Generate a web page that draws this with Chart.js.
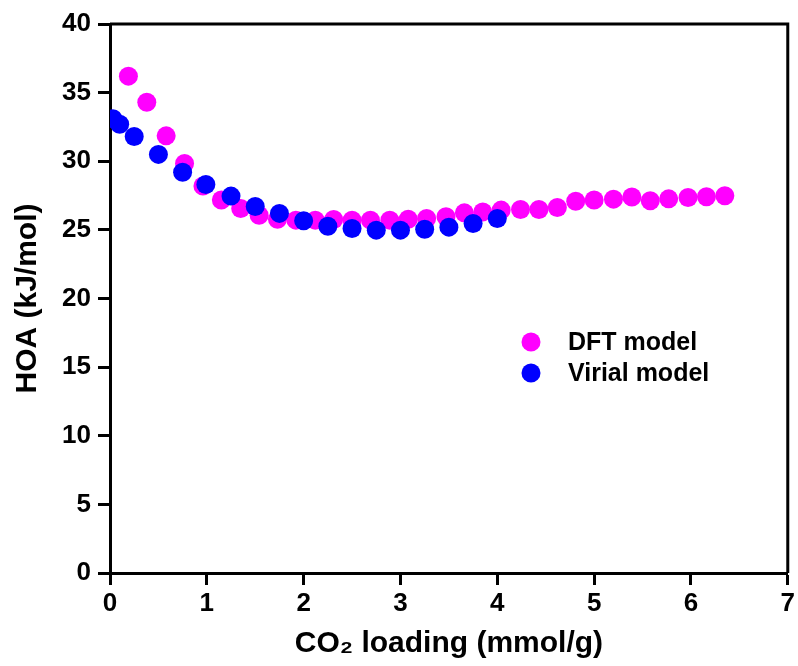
<!DOCTYPE html>
<html>
<head>
<meta charset="utf-8">
<title>HOA vs CO2 loading</title>
<script src="https://cdn.jsdelivr.net/npm/chart.js@4/dist/chart.umd.min.js"></script>
<style>
  html, body { margin: 0; padding: 0; background: #fff; }
  #wrap { width: 798px; height: 666px; }
</style>
</head>
<body>
<div id="wrap"><canvas id="graficoHOA" width="798" height="666"></canvas></div>
<script>
// valores
const dftX = [0.19, 0.38, 0.58, 0.77, 0.96, 1.15, 1.35, 1.54, 1.73, 1.92, 2.12, 2.31, 2.50, 2.69, 2.89, 3.08, 3.27,
  3.47, 3.66, 3.85, 4.04, 4.24, 4.43, 4.62, 4.81, 5.00, 5.20, 5.39, 5.58, 5.77, 5.97, 6.16, 6.35];
const dftY = [36.2, 34.3, 31.85, 29.84, 28.19, 27.17, 26.56, 26.07, 25.78, 25.71, 25.71, 25.76, 25.71, 25.71, 25.71, 25.78, 25.83,
  25.95, 26.24, 26.31, 26.44, 26.49, 26.49, 26.63, 27.09, 27.17, 27.24, 27.39, 27.12, 27.26, 27.36, 27.41, 27.48];
const virialX = [0.03, 0.10, 0.25, 0.50, 0.75, 0.99, 1.25, 1.50, 1.75, 2.00, 2.25, 2.50, 2.75, 3.00, 3.25, 3.50, 3.75, 4.00];
const virialY = [33.1, 32.7, 31.8, 30.5, 29.2, 28.3, 27.46, 26.7, 26.2, 25.66, 25.27, 25.1, 24.98, 24.98, 25.05, 25.2, 25.47, 25.83];
const xTicks = [0, 1, 2, 3, 4, 5, 6, 7];
const yTicks = [0, 5, 10, 15, 20, 25, 30, 35, 40];
const seriesLabels = ['DFT model', 'Virial model'];
const seriesColors = ['#ff00ff', '#0000ff'];

const toPoints = (xs, ys) => xs.map((x, i) => ({ x, y: ys[i] }));

// marco superior y derecho + leyenda dentro del area
const boxAndLegend = {
  id: 'boxAndLegend',
  afterDatasetsDraw(chart) {
    const { ctx, chartArea: a } = chart;
    ctx.save();
    ctx.strokeStyle = '#000';
    ctx.lineWidth = 3;
    ctx.beginPath();
    ctx.moveTo(a.left, a.top);
    ctx.lineTo(a.right, a.top);
    ctx.lineTo(a.right, a.bottom);
    ctx.stroke();

    ctx.font = 'bold 25px "Liberation Sans", Arial, sans-serif';
    ctx.textBaseline = 'middle';
    const rows = [342, 373];
    chart.data.datasets.forEach((ds, i) => {
      ctx.fillStyle = ds.backgroundColor;
      ctx.beginPath();
      ctx.arc(531, rows[i], 9.5, 0, Math.PI * 2);
      ctx.fill();
      ctx.fillStyle = '#000';
      ctx.fillText(ds.label, 568, rows[i] + 1);
    });
    ctx.restore();
  }
};

document.addEventListener('DOMContentLoaded', () => {
  Chart.defaults.font.family = '"Liberation Sans", Arial, sans-serif';
  Chart.defaults.font.weight = 'bold';
  Chart.defaults.color = '#000';

  const ctx = document.getElementById('graficoHOA').getContext('2d');
  new Chart(ctx, {
    type: 'scatter',
    data: {
      datasets: [
        {
          label: seriesLabels[0],
          data: toPoints(dftX, dftY),
          backgroundColor: seriesColors[0],
          borderWidth: 0,
          pointRadius: 9.5,
          order: 2,
          clip: 0
        },
        {
          label: seriesLabels[1],
          data: toPoints(virialX, virialY),
          backgroundColor: seriesColors[1],
          borderWidth: 0,
          pointRadius: 9.5,
          order: 1,
          clip: 0
        }
      ]
    },
    options: {
      responsive: false,
      animation: false,
      events: [],
      layout: { padding: { top: 24, right: 7, left: 0, bottom: 0 } },
      plugins: {
        legend: { display: false },
        tooltip: { enabled: false }
      },
      scales: {
        x: {
          type: 'linear',
          min: 0,
          max: 7,
          afterFit: s => { s.height = 93; },
          afterBuildTicks: s => { s.ticks = xTicks.map(v => ({ value: v })); },
          border: { display: true, color: '#000', width: 3 },
          grid: { drawOnChartArea: false, tickLength: 12, tickWidth: 3, tickColor: '#000' },
          ticks: { font: { size: 26, weight: 'bold' }, padding: 3, maxRotation: 0 },
          title: {
            display: true,
            text: 'CO₂ loading (mmol/g)',
            font: { size: 30, weight: 'bold' },
            padding: { top: 0, bottom: 4 }
          }
        },
        y: {
          type: 'linear',
          min: 0,
          max: 40,
          afterFit: s => { s.width = 110; },
          afterBuildTicks: s => { s.ticks = yTicks.map(v => ({ value: v })); },
          border: { display: true, color: '#000', width: 3 },
          grid: { drawOnChartArea: false, tickLength: 12, tickWidth: 3, tickColor: '#000' },
          ticks: { font: { size: 26, weight: 'bold' }, padding: 7 },
          title: {
            display: true,
            text: 'HOA (kJ/mol)',
            font: { size: 30, weight: 'bold' },
            padding: { top: 10, bottom: 0 }
          }
        }
      }
    },
    plugins: [boxAndLegend]
  });
});
</script>
</body>
</html>
